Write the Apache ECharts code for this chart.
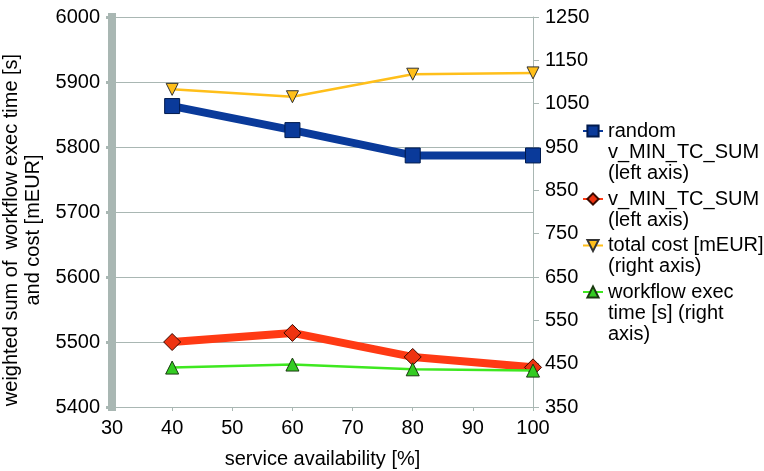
<!DOCTYPE html>
<html><head><meta charset="utf-8">
<script src="https://cdn.jsdelivr.net/npm/echarts@6/dist/echarts.min.js"></script>
<style>html,body{margin:0;padding:0;background:#fff}#c{width:764px;height:471px}</style>
</head><body><div id="c"></div>
<script>
const xValues = [40, 60, 80, 100];
const randomMinTcSum = [5863, 5826, 5787, 5787];
const minTcSum = [5500, 5514, 5477, 5461];
const totalCost = [1083, 1066, 1118, 1121];
const execTime = [441, 448, 437, 434];
const seriesNames = [
  'random\nv_MIN_TC_SUM\n(left axis)',
  'v_MIN_TC_SUM\n(left axis)',
  'total cost [mEUR]\n(right axis)',
  'workflow exec\ntime [s] (right\naxis)'
];
const xAxisName = 'service availability [%]';
const yAxisName = 'weighted sum of  workflow exec time [s]\nand cost [mEUR]';

const FONT = 'Liberation Sans';
const FS = 20;
const AX = '#a9b7b3';
const LH = 21;
const legendCenters = [131, 199, 245.5, 292];

function pairs(vals) { return xValues.map((x, i) => [x, vals[i]]); }
function plain(v) { return String(v); }

const legends = seriesNames.map((name, i) => {
  const n = name.split('\n').length;
  return {
    data: [name],
    left: 582,
    top: legendCenters[i] - (2 * n - 1) * LH / 2,
    padding: 0,
    itemWidth: 20,
    itemHeight: 14,
    selectedMode: false,
    formatter: (nm) => '\u00a0\n'.repeat(n - 1) + nm,
    textStyle: { fontFamily: FONT, fontSize: FS, color: '#000', lineHeight: LH }
  };
});

const chart = echarts.init(document.getElementById('c'), null, { renderer: 'canvas' });
chart.setOption({
  animation: false,
  backgroundColor: '#fff',
  textStyle: { fontFamily: FONT },
  grid: { left: 112, right: 231, top: 17, bottom: 64, containLabel: false, outerBoundsMode: 'none' },
  legend: legends,
  xAxis: {
    type: 'value', min: 30, max: 100, interval: 10,
    name: xAxisName, nameLocation: 'middle', nameGap: 42,
    nameTextStyle: { fontFamily: FONT, fontSize: FS, color: '#000' },
    axisLine: { lineStyle: { color: AX, width: 1 } },
    axisTick: { show: true, length: 4, lineStyle: { color: AX } },
    axisLabel: { fontFamily: FONT, fontSize: FS, color: '#000', margin: 11, formatter: plain },
    splitLine: { show: false }
  },
  yAxis: [{
    type: 'value', min: 5400, max: 6000, interval: 100, position: 'left',
    name: yAxisName, nameLocation: 'middle', nameGap: 64, nameRotate: 90,
    nameTextStyle: { fontFamily: FONT, fontSize: FS, color: '#000', lineHeight: 22, padding: [0, 36, 0, 0] },
    axisLine: { show: true, lineStyle: { color: AX, width: 8, cap: 'square' } },
    axisTick: { show: true, length: 6, lineStyle: { color: AX, width: 3 } },
    axisLabel: { fontFamily: FONT, fontSize: FS, color: '#000', margin: 12, formatter: plain },
    splitLine: { show: true, lineStyle: { color: AX, width: 1 } }
  }, {
    type: 'value', min: 350, max: 1250, interval: 100, position: 'right',
    axisLine: { show: true, lineStyle: { color: AX, width: 1 } },
    axisTick: { show: true, length: 6, lineStyle: { color: AX } },
    axisLabel: { fontFamily: FONT, fontSize: FS, color: '#000', margin: 12, formatter: plain },
    splitLine: { show: false }
  }],
  series: [{
    name: seriesNames[0], type: 'line', yAxisIndex: 0, data: pairs(randomMinTcSum),
    symbol: 'rect', symbolSize: 15,
    lineStyle: { color: '#0a3a9a', width: 8 },
    itemStyle: { color: '#0a3a9a', borderColor: '#001a4d', borderWidth: 1 },
    z: 3
  }, {
    name: seriesNames[1], type: 'line', yAxisIndex: 0, data: pairs(minTcSum),
    symbol: 'diamond', symbolSize: 17,
    lineStyle: { color: '#ff3a14', width: 8 },
    itemStyle: { color: '#ee3311', borderColor: '#3a0a00', borderWidth: 1 },
    z: 3
  }, {
    name: seriesNames[2], type: 'line', yAxisIndex: 1, data: pairs(totalCost),
    symbol: 'triangle', symbolRotate: 180, symbolSize: 12,
    lineStyle: { color: '#ffbf1a', width: 2.5 },
    itemStyle: { color: '#ffbf1a', borderColor: '#333', borderWidth: 1 },
    z: 4
  }, {
    name: seriesNames[3], type: 'line', yAxisIndex: 1, data: pairs(execTime),
    symbol: 'triangle', symbolSize: 13,
    lineStyle: { color: '#3ee820', width: 2.5 },
    itemStyle: { color: '#33cc22', borderColor: '#1a3a10', borderWidth: 1 },
    z: 4
  }]
});
</script></body></html>
